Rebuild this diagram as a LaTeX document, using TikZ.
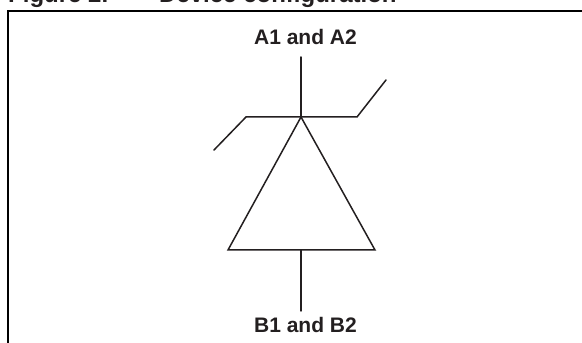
\documentclass[tikz,border=0pt]{standalone}
\usepackage{fontspec}
\setmainfont{Liberation Sans}
\usetikzlibrary{positioning}
\definecolor{ink}{RGB}{35,31,32}
\tikzset{wire/.style={draw=ink,line width=1.5pt,line cap=round,line join=miter}}
\tikzset{pinlabel/.style={font=\fontsize{21}{24}\selectfont\bfseries,text=ink,inner sep=0pt,xshift=4.5pt}}
\begin{document}
\begin{tikzpicture}[x=1pt,y=1pt,on grid]
        \useasboundingbox (0,0) rectangle (582,343);
        \node(title)[anchor=base west,inner sep=0pt,text=ink,font=\fontsize{24}{28}\selectfont\bfseries] at (8,340.5){Figure 2.\hspace{51pt}Device configuration};
        \coordinate(corner) at (7.5,332);
        \coordinate(framebottom) at (7.5,0);
        \coordinate(frameright) at (582,332);
        \draw[black,line width=2pt] (framebottom) -- (corner) -- (frameright);
        \coordinate(apex) at (301,226);
        \coordinate[above=60pt of apex](topend);
        \coordinate[left=55pt of apex](leftbend);
        \coordinate[below left=33pt and 32pt of leftbend](leftend);
        \coordinate[right=56pt of apex](rightbend);
        \coordinate[above right=37pt and 29pt of rightbend](rightend);
        \coordinate(baseleft) at (228,93);
        \coordinate(baseright) at (375,93);
        \coordinate[below=133pt of apex](basemid);
        \coordinate[below=61pt of basemid](bottomend);
        \node(A)[pinlabel,above=12pt of topend]{A1 and A2};
        \node(B)[pinlabel,below=6pt of bottomend]{B1 and B2};
        \draw[wire] (topend) -- (apex);
        \draw[wire] (leftend) -- (leftbend) -- (rightbend) -- (rightend);
        \draw[wire] (apex) -- (baseleft) -- (baseright) -- cycle;
        \draw[wire] (basemid) -- (bottomend);
      \end{tikzpicture}
\end{document}
